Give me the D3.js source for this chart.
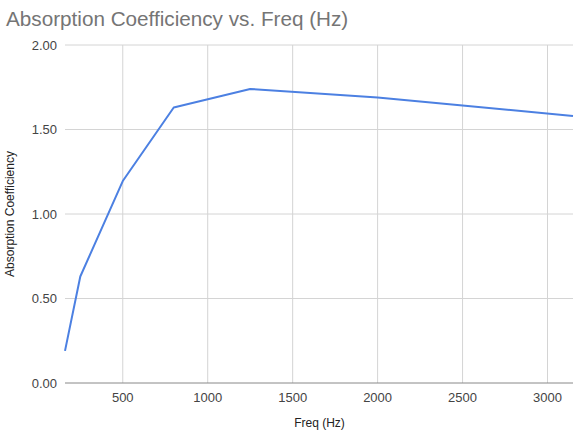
<!DOCTYPE html>
<html>
<head>
<meta charset="utf-8">
<script src="https://cdn.jsdelivr.net/npm/d3@7"></script>
<style>
  body { margin: 0; background: #fff; }
  text { font-family: "Liberation Sans", Arial, sans-serif; }
</style>
</head>
<body>
<script>
// data
const freqs = [160, 250, 500, 800, 1250, 2000, 2500, 3150]
const coeffs = [0.19, 0.63, 1.195, 1.63, 1.74, 1.69, 1.642, 1.58]
const xTicks = [500, 1000, 1500, 2000, 2500, 3000]
const yTicks = [0, 0.5, 1, 1.5, 2]

let width = 574
let height = 435
const margin = {top: 45, right: 1, bottom: 52, left: 65}

const svg = d3.select('body').append('svg').attr('width', width).attr('height', height)

const x = d3.scaleLinear().domain([160, 3150]).range([margin.left, width - margin.right])
const y = d3.scaleLinear().domain([0, 2]).range([height - margin.bottom, margin.top])

// gridlines
svg.append('g').selectAll('line').data(yTicks.slice(1)).enter().append('line')
  .attr('x1', margin.left).attr('x2', width - margin.right)
  .attr('y1', d => y(d)).attr('y2', d => y(d))
  .attr('stroke', '#d4d4d4').attr('stroke-width', 1)

svg.append('g').selectAll('line').data(xTicks).enter().append('line')
  .attr('x1', d => x(d)).attr('x2', d => x(d))
  .attr('y1', margin.top).attr('y2', y(0))
  .attr('stroke', '#d4d4d4').attr('stroke-width', 1)

// baseline
svg.append('line')
  .attr('x1', margin.left).attr('x2', width - margin.right)
  .attr('y1', y(0)).attr('y2', y(0))
  .attr('stroke', '#888').attr('stroke-width', 1)

// tick labels
svg.append('g').selectAll('text').data(yTicks).enter().append('text')
  .attr('x', margin.left - 8).attr('y', d => y(d) + 4.5)
  .attr('text-anchor', 'end').attr('font-size', 13).attr('fill', '#444')
  .text(d => d3.format('.2f')(d))

svg.append('g').selectAll('text').data(xTicks).enter().append('text')
  .attr('x', d => x(d)).attr('y', y(0) + 19)
  .attr('text-anchor', 'middle').attr('font-size', 13).attr('fill', '#444')
  .text(d => d)

// line
const line = d3.line().x((d, i) => x(freqs[i])).y(d => y(d))
svg.append('path').datum(coeffs)
  .attr('d', line)
  .attr('fill', 'none').attr('stroke', '#4c80e2').attr('stroke-width', 2)
  .attr('stroke-linejoin', 'round')

// titles
svg.append('text').attr('x', 6).attr('y', 26)
  .attr('font-size', 20.7).attr('fill', '#757575')
  .text('Absorption Coefficiency vs. Freq (Hz)')

svg.append('text').attr('x', (margin.left + width) / 2).attr('y', 427)
  .attr('text-anchor', 'middle').attr('font-size', 12).attr('fill', '#222')
  .text('Freq (Hz)')

svg.append('text')
  .attr('transform', `translate(14,${y(1)}) rotate(-90)`)
  .attr('text-anchor', 'middle').attr('font-size', 12).attr('fill', '#222')
  .text('Absorption Coefficiency')
</script>
</body>
</html>
